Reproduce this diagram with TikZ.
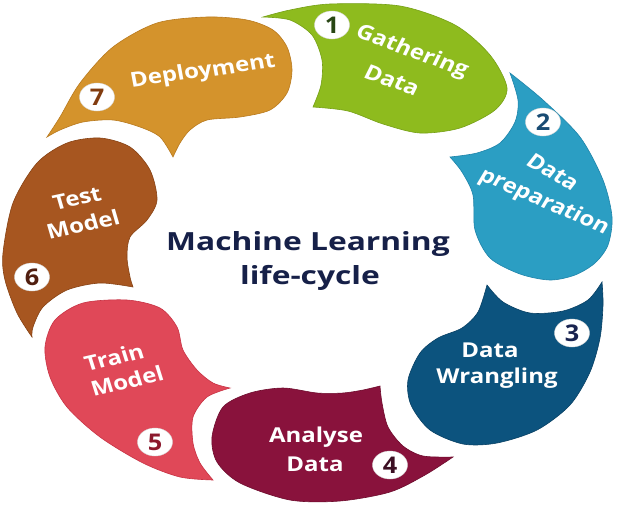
\documentclass[tikz,border=0pt]{standalone}
\usepackage{fontspec}
\setmainfont{Open Sans}
\usetikzlibrary{shapes.geometric}
\definecolor{cgreen}{RGB}{142,187,30}
\definecolor{cgreenD}{RGB}{118,160,22}
\definecolor{clblue}{RGB}{43,158,195}
\definecolor{clblueD}{RGB}{30,132,170}
\definecolor{cdblue}{RGB}{12,83,126}
\definecolor{cdblueD}{RGB}{8,64,100}
\definecolor{cmaroon}{RGB}{137,18,60}
\definecolor{cmaroonD}{RGB}{110,12,45}
\definecolor{cred}{RGB}{224,72,88}
\definecolor{credD}{RGB}{200,50,68}
\definecolor{cbrown}{RGB}{167,86,32}
\definecolor{cbrownD}{RGB}{135,66,20}
\definecolor{corange}{RGB}{212,147,44}
\definecolor{corangeD}{RGB}{185,122,30}
\definecolor{ctitle}{RGB}{22,32,72}
\definecolor{cn1}{RGB}{40,70,20}
\definecolor{cn2}{RGB}{25,75,115}
\definecolor{cn3}{RGB}{25,35,80}
\definecolor{cn4}{RGB}{60,15,35}
\definecolor{cn5}{RGB}{140,25,45}
\definecolor{cn6}{RGB}{80,30,15}
\definecolor{cn7}{RGB}{130,60,15}
\begin{document}
\begin{tikzpicture}[x=1pt,y=-1pt,
  blob/.style={line width=0.6pt},
  lbl/.style={text=white, font=\fontsize{20.5}{22}\selectfont\bfseries, inner sep=0pt, anchor=center, xscale=1.17},
  badge/.style={ellipse, fill=white, draw=black!15, line width=0.4pt, minimum width=35pt, minimum height=28pt, inner sep=0pt},
  num/.style={inner sep=0pt, font=\fontsize{23}{24}\selectfont\bfseries, xscale=1.1},
  ttl/.style={text=ctitle, font=\fontsize{25}{28}\selectfont\bfseries, inner sep=0pt, anchor=base, xscale=1.27}]
\useasboundingbox (0,0) rectangle (620,504);
\fill[white] (0,0) rectangle (620,504);
% 1 green
\filldraw[blob, fill=cgreen, draw=cgreenD] plot[smooth] coordinates {(263,17) (290,10) (330,4) (400,6) (455,25) (490,55) (507,88) (495,110) (460,128) (420,133) (383,124) (348,111) (313,107)}
  -- plot[smooth] coordinates {(313,107) (321,85) (322,60) (312,35) (290,20) (263,17)} -- cycle;
% 2 light blue
\filldraw[blob, fill=clblue, draw=clblueD] plot[smooth] coordinates {(510,73) (543,100) (580,137) (603,180) (612,217) (608,245) (595,263) (575,275) (550,280) (520,274) (490,258) (475,230) (473,195) (462,172) (450,157)}
  -- plot[smooth] coordinates {(450,157) (477,153) (500,143) (515,122) (518,100) (510,73)} -- cycle;
% 3 dark blue
\filldraw[blob, fill=cdblue, draw=cdblueD] plot[smooth] coordinates {(487,285) (478,312) (462,328) (438,338) (420,353) (408,380) (411,405) (430,430) (463,444) (497,443) (537,430) (570,405) (590,372) (600,338) (603,305) (602,282)}
  -- plot[smooth] coordinates {(602,282) (588,300) (563,311) (530,313) (503,302) (487,285)} -- cycle;
% 4 maroon
\filldraw[blob, fill=cmaroon, draw=cmaroonD] plot[smooth] coordinates {(380,386) (363,390) (343,393) (317,393) (283,388) (250,393) (223,407) (212,437) (217,462) (240,483) (290,500) (340,501) (390,492) (425,475) (453,457)}
  -- plot[smooth] coordinates {(453,457) (423,456) (403,446) (388,427) (382,403) (380,386)} -- cycle;
% 5 red
\filldraw[blob, fill=cred, draw=credD] plot[smooth] coordinates {(230,388) (213,383) (197,370) (183,350) (177,327) (160,308) (127,300) (83,303) (55,320) (45,347) (50,377) (67,407) (100,437) (143,463) (180,477) (213,480)}
  -- plot[smooth] coordinates {(213,480) (200,463) (193,443) (193,417) (207,397) (230,388)} -- cycle;
% 6 brown
\filldraw[blob, fill=cbrown, draw=cbrownD] plot[smooth] coordinates {(133,287) (130,277) (127,257) (130,237) (147,220) (157,200) (150,170) (130,147) (100,138) (67,143) (37,163) (13,203) (3,253) (5,280) (17,313) (32,337)}
  -- plot[smooth] coordinates {(32,337) (33,327) (43,307) (67,290) (100,283) (133,287)} -- cycle;
% 7 orange
\filldraw[blob, fill=corange, draw=corangeD] plot[smooth] coordinates {(47,137) (60,117) (80,83) (113,47) (157,23) (207,17) (247,20) (273,30) (287,47) (292,70) (287,93) (270,110) (240,117) (207,120) (190,130) (180,143) (173,157)}
  -- plot[smooth] coordinates {(173,157) (160,137) (140,127) (113,120) (83,122) (60,130) (47,137)} -- cycle;
% badges
\node[badge] (b1) at (332,25) {}; \node[num, text=cn1] (d1) at (b1.center) {1};
\node[badge] (b2) at (543,122) {}; \node[num, text=cn2] (d2) at (b2.center) {2};
\node[badge] (b3) at (572,333) {}; \node[num, text=cn3] (d3) at (b3.center) {3};
\node[badge] (b4) at (390,465) {}; \node[num, text=cn4] (d4) at (b4.center) {4};
\node[badge] (b5) at (155,442) {}; \node[num, text=cn5] (d5) at (b5.center) {5};
\node[badge] (b6) at (32,277) {}; \node[num, text=cn6] (d6) at (b6.center) {6};
\node[badge] (b7) at (97,97) {}; \node[num, text=cn7] (d7) at (b7.center) {7};
% labels
\node[lbl, rotate=-23] (l1a) at (412,52) {Gathering};
\node[lbl, rotate=-23] (l1b) at (392,80) {Data};
\node[lbl, rotate=-34] (l2a) at (553,172) {Data};
\node[lbl, rotate=-27] (l2b) at (544,202) {preparation};
\node[lbl] (l3a) at (490,350) {Data};
\node[lbl] (l3b) at (497,378) {Wrangling};
\node[lbl] (l4a) at (316,437) {Analyse};
\node[lbl] (l4b) at (315,464) {Data};
\node[lbl, rotate=15] (l5a) at (114,357) {Train};
\node[lbl, rotate=15] (l5b) at (127,381) {Model};
\node[lbl, rotate=14] (l6a) at (77,198) {Test};
\node[lbl, rotate=14] (l6b) at (83,224) {Model};
\node[lbl, rotate=9] (l7) at (203,72) {Deployment};
% title
\node[ttl] (t1) at (308,250) {Machine Learning};
\node[ttl] (t2) at (310,284) {life-cycle};
\end{tikzpicture}
\end{document}
